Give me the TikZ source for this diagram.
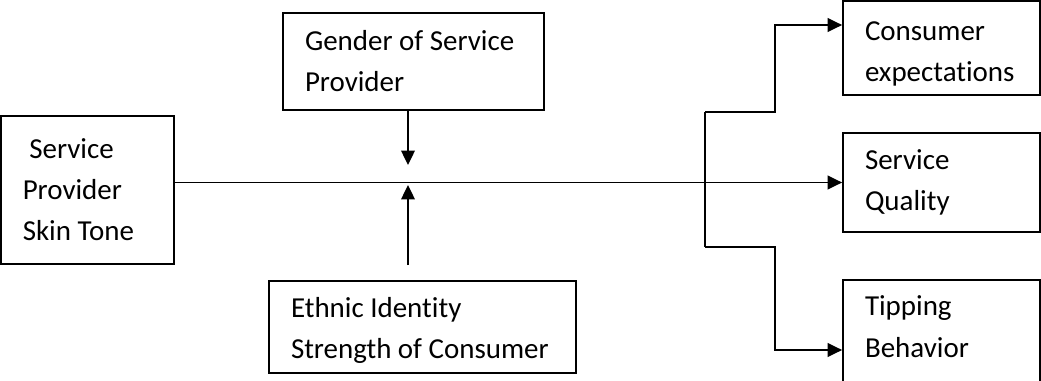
\documentclass[tikz,border=0pt]{standalone}
\usepackage{fontspec}
\setmainfont{Carlito}[Ligatures=NoCommon]
\usetikzlibrary{arrows.meta}

\begin{document}
\begin{tikzpicture}[box/.style={draw,align=flush left,inner xsep=0.55cm,inner ysep=0pt,font=\fontsize{20.6}{29.2}\selectfont},
  >={Triangle[length=0.36cm,width=0.34cm]}, line width=1.25pt]
  \useasboundingbox (0,0) rectangle (26.025,-9.525);
  % Boxes
  \node[box,text width=3.23cm,minimum height=3.7cm] (skin) at (2.184,-4.75) {\ Service\\Provider\\Skin Tone};
  \node[box,text width=5.425cm,minimum height=2.425cm] (gender) at (10.3375,-1.5375) {Gender of Service\\Provider};
  \node[box,text width=6.575cm,minimum height=2.3cm,text depth=1.0cm] (ethnic) at (10.5625,-8.175) {Ethnic Identity\\Strength of Consumer};

  \node[box,text width=3.825cm,minimum height=2.35cm,text depth=0.86cm] (consumer) at (23.5375,-1.2) {Consumer\\expectations};
  \node[box,text width=3.825cm,minimum height=2.475cm] (quality) at (23.5375,-4.5625) {Service\\Quality};
  \node[box,text width=3.825cm,minimum height=2.8cm,text depth=1.5cm] (tipping) at (23.5375,-8.4) {Tipping\\Behavior};

  % Free ends of the arrows
  \coordinate (gtip) at (10.2,-4.125);
  \coordinate (etip) at (10.2,-4.625);
  \coordinate (efoot) at (10.2,-6.625);
  \coordinate (ctop) at (17.625,-2.8);
  \coordinate (cbot) at (17.625,-6.175);
  \coordinate (cup) at (19.375,-0.625);
  \coordinate (cdown) at (19.375,-8.75);

  \draw[->] (gender.south -| gtip) -- (gtip);
  \draw[->] (efoot) -- (etip);
  \draw[->] (skin.east |- quality.west) -- (quality.west);
  \draw (ctop) -- (cbot);
  \draw[->] (ctop) -| (cup) -- (cup -| consumer.west);
  \draw[->] (cbot) -| (cdown) -- (cdown -| tipping.west);
\end{tikzpicture}
\end{document}
